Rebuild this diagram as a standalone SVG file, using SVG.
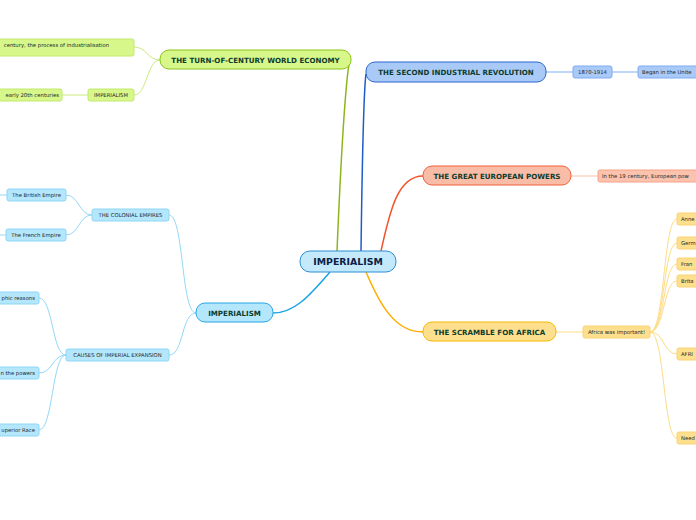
<svg xmlns="http://www.w3.org/2000/svg" width="696" height="520" viewBox="0 0 696 520">
<style>
text{font-family:"DejaVu Sans","Verdana",sans-serif}
.main{font-size:7.1px;font-weight:bold;fill:#0d3b2c;text-anchor:middle}
.ctr{font-size:9.4px;font-weight:bold;fill:#0b2246;text-anchor:middle}
.sm{font-size:5.3px;fill:#262626}
.mid{text-anchor:middle}
.end{text-anchor:end}
.c{fill:none}
</style>
<rect width="696" height="520" fill="#ffffff"/>
<g id="connectors">
  <path class="c" d="M337,251 C340,180 345,90 349,64" stroke="#8cb51a" stroke-width="1.5"/>
  <path class="c" d="M361,251 C362,180 363,95 366,74" stroke="#1e5cc8" stroke-width="1.5"/>
  <path class="c" d="M381,251 C390,210 398,176 423,176" stroke="#f0562c" stroke-width="1.5"/>
  <path class="c" d="M366,272 C380,305 395,332 423,332" stroke="#ffad00" stroke-width="1.5"/>
  <path class="c" d="M330,272 C310,295 295,313 273,313" stroke="#1aa3e4" stroke-width="1.5"/>
  <g stroke="#c9ea80" stroke-width="1">
    <path class="c" d="M160,60 C147,60 147,47 134,47"/>
    <path class="c" d="M160,60 C147,60 147,95 134,95"/>
    <path class="c" d="M88,95 L62,95"/>
  </g>
  <g stroke="#7fadf2" stroke-width="1">
    <path class="c" d="M546,72 L573,72"/>
    <path class="c" d="M612,72 L638,72"/>
  </g>
  <path class="c" d="M571,176 L598,176" stroke="#fbbfa8" stroke-width="1"/>
  <g stroke="#fddc85" stroke-width="1">
    <path class="c" d="M556,332 L583,332"/>
    <path class="c" d="M650,332 C665,332 663,219 677,219"/>
    <path class="c" d="M650,332 C665,332 663,243 677,243"/>
    <path class="c" d="M650,332 C665,332 663,264 677,264"/>
    <path class="c" d="M650,332 C665,332 663,281 677,281"/>
    <path class="c" d="M650,332 C665,332 663,354 677,354"/>
    <path class="c" d="M650,332 C665,332 663,438 677,438"/>
  </g>
  <g stroke="#93d8f6" stroke-width="1">
    <path class="c" d="M196,313 C181,313 184,215 169,215"/>
    <path class="c" d="M196,313 C181,313 184,355 169,355"/>
    <path class="c" d="M92,215 C79,215 79,195 66,195"/>
    <path class="c" d="M92,215 C79,215 79,235 66,235"/>
    <path class="c" d="M66,355 C52,355 53,298 39,298"/>
    <path class="c" d="M66,355 C52,355 53,373 39,373"/>
    <path class="c" d="M66,355 C52,355 53,430 39,430"/>
    <path class="c" d="M7,195 L0,195"/>
    <path class="c" d="M6,235 L0,235"/>
  </g>
</g>
<g id="center">
  <rect x="300" y="251" width="96" height="21" rx="10" fill="#c4e9fb" stroke="#2b8fd6" stroke-width="1"/>
  <text class="ctr" x="348" y="265">IMPERIALISM</text>
</g>
<g id="n-economy">
  <rect x="160" y="50" width="191" height="19" rx="9" fill="#d7f78b" stroke="#8cc219" stroke-width="1"/>
  <text class="main" x="255.5" y="62.5">THE TURN-OF-CENTURY WORLD ECONOMY</text>
</g>
<g id="n-economy-1">
  <rect x="-20" y="39" width="154" height="17" rx="2" fill="#d7f78b" stroke="#c2ea6c" stroke-width="1"/>
  <text class="sm end" x="109" y="47">century, the process of industrialisation</text>
</g>
<g id="n-economy-2">
  <rect x="88" y="89" width="46" height="12" rx="2" fill="#d7f78b" stroke="#c2ea6c" stroke-width="1"/>
  <text class="sm mid" x="111" y="97">IMPERIALISM</text>
</g>
<g id="n-economy-2-1">
  <rect x="-20" y="89" width="82" height="12" rx="2" fill="#d7f78b" stroke="#c2ea6c" stroke-width="1"/>
  <text class="sm end" x="59" y="97">early 20th centuries</text>
</g>
<g id="n-industrial">
  <rect x="366" y="62" width="180" height="20" rx="9" fill="#a9caf7" stroke="#2a66d0" stroke-width="1"/>
  <text class="main" x="456" y="75">THE SECOND INDUSTRIAL REVOLUTION</text>
</g>
<g id="n-industrial-1">
  <rect x="573" y="66" width="39" height="12" rx="2" fill="#a9caf7" stroke="#7fadf2" stroke-width="1"/>
  <text class="sm mid" x="592.5" y="74">1870-1914</text>
</g>
<g id="n-industrial-2">
  <rect x="638" y="66" width="80" height="12" rx="2" fill="#a9caf7" stroke="#7fadf2" stroke-width="1"/>
  <text class="sm" x="642" y="74">Began in the Unite</text>
</g>
<g id="n-powers">
  <rect x="423" y="166" width="148" height="19" rx="9" fill="#f9bca7" stroke="#f0603a" stroke-width="1"/>
  <text class="main" x="497" y="178.5">THE GREAT EUROPEAN POWERS</text>
</g>
<g id="n-powers-1">
  <rect x="598" y="170" width="110" height="12" rx="2" fill="#fbc3ae" stroke="#f6a387" stroke-width="1"/>
  <text class="sm" x="602" y="178">In the 19 century, European pow</text>
</g>
<g id="n-africa">
  <rect x="423" y="322" width="133" height="19" rx="9" fill="#fddf8d" stroke="#f6b800" stroke-width="1"/>
  <text class="main" x="489.5" y="334.5">THE SCRAMBLE FOR AFRICA</text>
</g>
<g id="n-africa-1">
  <rect x="583" y="326" width="67" height="12" rx="2" fill="#fde08e" stroke="#fbd273" stroke-width="1"/>
  <text class="sm mid" x="616.5" y="334">Africa was important!</text>
</g>
<g id="n-africa-1-1">
  <rect x="677" y="213" width="40" height="12" rx="2" fill="#fde08e" stroke="#fbd273" stroke-width="1"/>
  <text class="sm" x="681" y="221">Anne</text>
</g>
<g id="n-africa-1-2">
  <rect x="677" y="237" width="40" height="12" rx="2" fill="#fde08e" stroke="#fbd273" stroke-width="1"/>
  <text class="sm" x="681" y="245">Germ</text>
</g>
<g id="n-africa-1-3">
  <rect x="677" y="258" width="40" height="12" rx="2" fill="#fde08e" stroke="#fbd273" stroke-width="1"/>
  <text class="sm" x="681" y="266">Fran</text>
</g>
<g id="n-africa-1-4">
  <rect x="677" y="275" width="40" height="12" rx="2" fill="#fde08e" stroke="#fbd273" stroke-width="1"/>
  <text class="sm" x="681" y="283">Brita</text>
</g>
<g id="n-africa-1-5">
  <rect x="677" y="348" width="40" height="12" rx="2" fill="#fde08e" stroke="#fbd273" stroke-width="1"/>
  <text class="sm" x="681" y="356">AFRI</text>
</g>
<g id="n-africa-1-6">
  <rect x="677" y="432" width="40" height="12" rx="2" fill="#fde08e" stroke="#fbd273" stroke-width="1"/>
  <text class="sm" x="681" y="440">Need</text>
</g>
<g id="n-imperialism">
  <rect x="196" y="303" width="77" height="19" rx="9" fill="#b4e6fc" stroke="#25a6e3" stroke-width="1"/>
  <text class="main" x="234.5" y="315.5">IMPERIALISM</text>
</g>
<g id="n-colonial">
  <rect x="92" y="209" width="77" height="12" rx="2" fill="#b4e6fc" stroke="#8fd6f5" stroke-width="1"/>
  <text class="sm mid" x="130.5" y="217">THE COLONIAL EMPIRES</text>
</g>
<g id="n-british">
  <rect x="7" y="189" width="59" height="12" rx="2" fill="#b4e6fc" stroke="#8fd6f5" stroke-width="1"/>
  <text class="sm mid" x="36.5" y="197">The British Empire</text>
</g>
<g id="n-french">
  <rect x="6" y="229" width="60" height="12" rx="2" fill="#b4e6fc" stroke="#8fd6f5" stroke-width="1"/>
  <text class="sm mid" x="36" y="237">The French Empire</text>
</g>
<g id="n-causes">
  <rect x="66" y="349" width="103" height="12" rx="2" fill="#b4e6fc" stroke="#8fd6f5" stroke-width="1"/>
  <text class="sm mid" x="117.5" y="357">CAUSES OF IMPERIAL EXPANSION</text>
</g>
<g id="n-causes-1">
  <rect x="-20" y="292" width="59" height="12" rx="2" fill="#b4e6fc" stroke="#8fd6f5" stroke-width="1"/>
  <text class="sm end" x="35" y="300">phic reasons</text>
</g>
<g id="n-causes-2">
  <rect x="-20" y="367" width="59" height="12" rx="2" fill="#b4e6fc" stroke="#8fd6f5" stroke-width="1"/>
  <text class="sm end" x="35" y="375">n the powers</text>
</g>
<g id="n-causes-3">
  <rect x="-20" y="424" width="59" height="12" rx="2" fill="#b4e6fc" stroke="#8fd6f5" stroke-width="1"/>
  <text class="sm end" x="35" y="432">uperior Race</text>
</g>
</svg>
